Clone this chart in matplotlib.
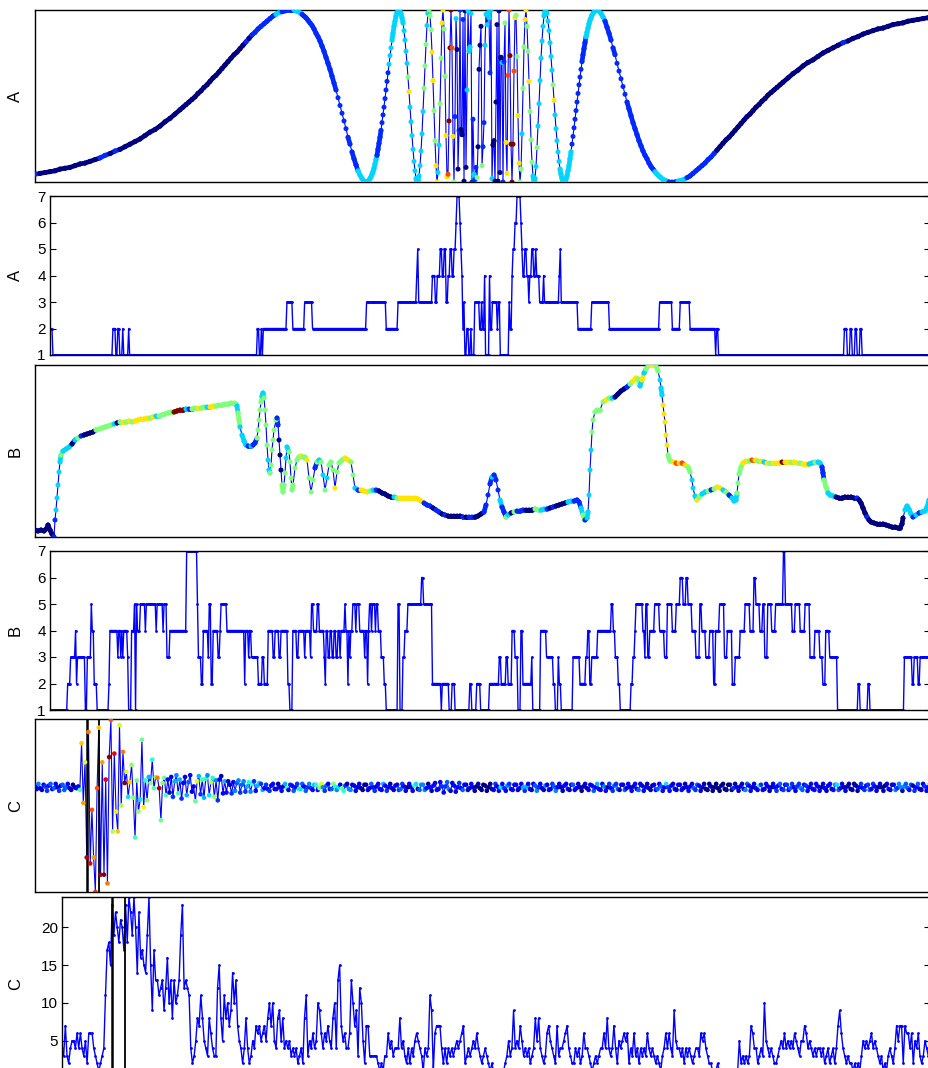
import numpy as np
import matplotlib
matplotlib.use('Agg')
import matplotlib.pyplot as plt
from matplotlib.collections import LineCollection

plt.rcParams['font.family'] = ['Liberation Sans', 'DejaVu Sans']

T = 895  # common time axis, samples

# ---------------- A : continuous signal (sample times come in blocks) ----------------
a_t = np.concatenate([np.arange(0, 146, 5), np.arange(148, 257, 3), np.arange(259, 332, 2),
                      np.arange(332, 562), np.arange(562, 635, 2), np.arange(637, 746, 3),
                      np.arange(748, 894, 5)])
a_vals = [
    -91, -90, -89, -88, -87, -85, -84, -83, -81, -79, -78, -76, -74, -72, -69, -67, -64, -62, -59, -56,
    -53, -50, -46, -42, -39, -35, -30, -26, -21, -16,
    -13, -10, -7, -4, -1, 3, 6, 10, 13, 17, 21, 24, 28, 32, 36, 40, 44, 48, 51, 55, 59, 63, 67, 71, 74,
    78, 81, 84, 87, 90, 93, 95, 97, 98, 99, 100, 100,
    100, 99, 98, 97, 95, 93, 91, 88, 85, 82, 78, 73, 69, 64, 58, 52, 45, 38, 31, 23, 15, 7, -2, -11, -20,
    -29, -38, -48, -56, -65, -73, -80, -87, -92, -96, -99, -100,
    -100, -99, -98, -96, -94, -91, -88, -84, -79, -74,
    -69, -62, -55, -48, -40, -31, -22, -13, -3, 7,
    17, 27, 37, 47, 56, 65, 73, 81, 87, 93,
    97, 99, 100, 99, 96, 91, 85, 76, 65, 52,
    38, 22, 5, -13, -30, -46, -62, -76, -87, -96,
    -100, -99, -93, -81, -64, -44, -18, 9, 35, 60,
    82, 96, 100, 93, 77, 51, 18, -17, -52, -81,
    -100, -89, -57, -9, 44, 85, 100, 78, 23, -46,
    -94, -91, -29, 56, 100, 56, -47, -100, -24, 90,
    54, -85, -40, 100, -39, -45, 89, -99, 99, -83,
    7, 99, 52, 57, 96, -100, -27, -91, -97, -83,
    -95, -59, 31, 59, 81,
    -81, -59, -31, 59, 95, 83, 97, 91, 27, 100,
    -96, -57, -52, -99, -7, 83, -99, 99, -89, 45,
    39, -100, 40, 85, -54, -90, 24, 100, 47, -56,
    -100, -56, 29, 91, 94, 46, -23, -78, -100, -85,
    -44, 9, 57, 89, 100, 81, 52, 17, -18, -51,
    -77, -93, -100, -96, -82, -60, -35, -9, 18, 44,
    64, 81, 93, 99, 100, 96, 87, 76, 62, 46,
    30, 13, -5, -22, -38, -52, -65, -76, -85, -91,
    -96, -99, -100, -99, -97, -93, -87, -81, -73, -65,
    -56, -47, -37, -27, -17, -7, 3, 13, 22, 31,
    40, 48, 55, 62, 69, 74, 79, 84, 88, 91,
    94, 96, 98, 99, 100,
    100, 99, 96, 92, 87, 80, 73, 65, 56, 48, 38, 29, 20, 11, 2, -7, -15, -23, -31, -38, -45, -52, -58,
    -64, -69, -73, -78, -82, -85, -88, -91, -93, -95, -97, -98, -99, -100,
    -100, -100, -99, -98, -97, -95, -93, -90, -87, -84, -81, -78, -74, -71, -67, -63, -59, -55, -51, -48,
    -44, -40, -36, -32, -28, -24, -21, -17, -13, -10, -6, -3, 1, 4, 7, 10, 13,
    16, 21, 26, 30, 35, 39, 42, 46, 50, 53, 56, 59, 62, 64, 67, 69, 72, 74, 76, 78, 79, 81, 83, 84, 85,
    87, 88, 89, 90, 91]

# A : integer level (start time, level)
a_runs = [(0, 2), (3, 1), (64, 2), (67, 1), (69, 2), (71, 1), (74, 2), (75, 1), (80, 2), (81, 1),
          (211, 2), (213, 1), (215, 2), (216, 1), (217, 2), (241, 3), (247, 2), (259, 3), (267, 2),
          (322, 3), (342, 2), (354, 3), (373, 4), (374, 5), (375, 3), (389, 4), (392, 3), (394, 4),
          (397, 5), (399, 4), (401, 5), (403, 3), (405, 4), (407, 5), (409, 4), (411, 5), (413, 6),
          (414, 7), (417, 6), (418, 5), (419, 4), (420, 2), (421, 3), (422, 1), (424, 2), (426, 1),
          (428, 2), (429, 1), (432, 3), (437, 2), (439, 3), (440, 2), (442, 4), (443, 1), (447, 4),
          (448, 2), (450, 3), (455, 2), (456, 3), (458, 1), (467, 3), (468, 2), (470, 4), (471, 5),
          (473, 6), (475, 7), (479, 6), (480, 5), (481, 4), (483, 5), (485, 4), (487, 3), (488, 4),
          (490, 5), (492, 4), (494, 5), (495, 4), (498, 3), (502, 4), (503, 3), (518, 4), (519, 5),
          (520, 3), (537, 2), (551, 3), (569, 2), (620, 3), (633, 2), (641, 3), (651, 2), (677, 1),
          (678, 2), (680, 1), (808, 2), (811, 1), (814, 2), (816, 1), (819, 2), (821, 1), (824, 2),
          (826, 1)]

# ---------------- B : continuous signal (time, value) ----------------
b_points = [
    (0, 7), (3, 6), (6, 7), (9, 6), (12, 9), (13, 12), (15, 7), (17, 3), (19, 0), (20, 17), (21, 27),
    (22, 39), (23, 52), (24, 65), (25, 75), (26, 82), (28, 86), (31, 88), (34, 90), (37, 93), (40, 97),
    (43, 99), (46, 101), (49, 102), (52, 103), (55, 104), (58, 105), (61, 107), (64, 108), (67, 109),
    (70, 110), (73, 111), (76, 112), (79, 113), (82, 114), (85, 115), (88, 115), (91, 115), (94, 116),
    (97, 115), (100, 116), (103, 117), (106, 118), (109, 118), (112, 119), (115, 119), (118, 120),
    (121, 121), (124, 121), (127, 122), (130, 123), (133, 124), (136, 125), (139, 125), (142, 126),
    (145, 127), (148, 127), (151, 128), (154, 128), (157, 128), (160, 129), (163, 129), (166, 129),
    (169, 130), (172, 130), (175, 130), (178, 131), (181, 131), (184, 132), (187, 132), (190, 133),
    (193, 133), (196, 134), (199, 134), (201, 133), (202, 131), (203, 124), (204, 117), (205, 110),
    (207, 102), (209, 96), (211, 92), (213, 91), (216, 91), (218, 92), (220, 94), (222, 99), (223, 107),
    (224, 117), (225, 127), (226, 135), (227, 141), (228, 144), (229, 139), (230, 127), (231, 112),
    (232, 92), (233, 77), (234, 67), (235, 64), (236, 72), (237, 87), (238, 97), (239, 107), (241, 117),
    (242, 119), (243, 112), (244, 97), (245, 82), (246, 67), (247, 52), (248, 45), (249, 52), (250, 64),
    (251, 79), (252, 90), (254, 85), (255, 75), (256, 59), (257, 47), (258, 52), (260, 69), (262, 77),
    (264, 80), (266, 81), (268, 80), (270, 80), (272, 77), (274, 59), (276, 45), (278, 57), (280, 69),
    (282, 75), (284, 77), (286, 75), (288, 62), (290, 47), (292, 59), (294, 72), (296, 75), (298, 67),
    (300, 49), (302, 65), (304, 74), (307, 77), (310, 79), (313, 77), (316, 75), (318, 62), (320, 49),
    (323, 47), (326, 47), (329, 46), (332, 45), (335, 46), (338, 47), (341, 47), (344, 46), (347, 44),
    (350, 43), (353, 41), (356, 40), (359, 40), (362, 39), (365, 39), (368, 39), (371, 39), (374, 39),
    (377, 39), (380, 39), (383, 38), (386, 36), (389, 34), (392, 32), (395, 31), (398, 29), (401, 27),
    (404, 25), (407, 23), (410, 22), (413, 21), (416, 21), (419, 21), (422, 21), (425, 21), (428, 20),
    (431, 20), (434, 20), (437, 20), (440, 20), (443, 21), (446, 23), (449, 25), (451, 32), (453, 42),
    (455, 53), (457, 60), (459, 62), (461, 57), (463, 47), (465, 37), (467, 30), (469, 25), (471, 20),
    (473, 22), (476, 24), (479, 25), (482, 26), (485, 26), (488, 27), (491, 27), (494, 27), (497, 27),
    (500, 28), (503, 27), (506, 27), (509, 28), (512, 28), (515, 29), (518, 30), (521, 31), (524, 32),
    (527, 33), (530, 34), (533, 35), (536, 36), (539, 36), (542, 37), (544, 35), (546, 29), (548, 22),
    (550, 17), (552, 19), (553, 25), (554, 42), (555, 67), (556, 87), (557, 105), (558, 117), (560, 125),
    (562, 127), (565, 127), (568, 135), (571, 137), (574, 139), (577, 139), (580, 140), (583, 143),
    (586, 146), (589, 148), (592, 150), (595, 153), (598, 156), (601, 159), (603, 158), (605, 151),
    (607, 157), (609, 164), (611, 168), (613, 171), (616, 172), (619, 172), (621, 171), (623, 166),
    (625, 157), (626, 149), (627, 142), (628, 132), (629, 123), (630, 115), (631, 102), (632, 92),
    (633, 82), (635, 76), (638, 75), (641, 74), (644, 74), (647, 74), (650, 72), (653, 70), (655, 65),
    (657, 57), (658, 49), (660, 41), (662, 37), (664, 40), (667, 43), (670, 45), (673, 46), (676, 47),
    (679, 48), (682, 50), (685, 49), (688, 47), (691, 45), (694, 42), (697, 39), (699, 36), (701, 37),
    (702, 44), (703, 54), (704, 63), (706, 70), (708, 74), (711, 76), (714, 76), (717, 77), (720, 77),
    (723, 76), (726, 76), (729, 75), (732, 74), (735, 74), (738, 74), (741, 74), (744, 74), (747, 75),
    (750, 75), (753, 75), (756, 75), (759, 75), (762, 74), (765, 74), (768, 73), (771, 73), (774, 73),
    (777, 74), (780, 75), (783, 75), (785, 74), (787, 70), (788, 64), (789, 57), (791, 50), (793, 44),
    (795, 42), (798, 41), (801, 40), (804, 39), (807, 39), (810, 40), (813, 40), (816, 40), (819, 39),
    (822, 39), (824, 37), (826, 34), (828, 29), (830, 24), (832, 20), (834, 17), (836, 15), (839, 14),
    (842, 13), (845, 13), (848, 13), (851, 12), (854, 11), (857, 10), (860, 10), (863, 9), (865, 9),
    (867, 13), (868, 19), (870, 27), (872, 31), (874, 28), (876, 23), (878, 20), (881, 22), (884, 24),
    (887, 25), (890, 26), (892, 30), (894, 37)]

# B : integer level (start time, level)
b_runs = [(0, 1), (18, 2), (21, 3), (26, 4), (27, 2), (28, 3), (36, 1), (38, 3), (42, 5), (43, 4),
          (45, 2), (48, 1), (60, 2), (61, 4), (69, 3), (70, 4), (72, 3), (73, 4), (74, 3), (75, 4),
          (79, 3), (80, 1), (83, 4), (86, 5), (87, 1), (88, 5), (89, 4), (92, 5), (97, 4), (98, 5),
          (108, 4), (109, 5), (115, 4), (116, 5), (119, 3), (122, 4), (139, 7), (150, 5), (151, 3),
          (154, 2), (156, 4), (161, 3), (162, 5), (164, 2), (166, 4), (171, 3), (173, 4), (174, 5),
          (180, 4), (198, 2), (199, 4), (202, 3), (203, 4), (205, 3), (212, 2), (216, 3), (218, 2),
          (222, 4), (227, 3), (229, 4), (233, 3), (235, 4), (242, 2), (244, 1), (247, 4), (251, 3),
          (253, 4), (259, 3), (260, 4), (265, 3), (266, 5), (268, 4), (272, 5), (274, 4), (279, 3),
          (280, 2), (281, 4), (283, 3), (285, 4), (287, 3), (289, 4), (291, 3), (293, 4), (295, 3),
          (296, 4), (300, 5), (301, 4), (303, 2), (304, 4), (305, 3), (306, 4), (308, 5), (311, 4),
          (312, 5), (315, 4), (320, 3), (321, 4), (323, 2), (324, 4), (325, 5), (327, 4), (328, 5),
          (331, 4), (332, 5), (334, 4), (337, 3), (340, 2), (342, 1), (354, 5), (356, 1), (359, 3),
          (361, 4), (364, 5), (378, 6), (380, 5), (389, 2), (398, 1), (399, 2), (406, 1), (409, 2),
          (412, 1), (427, 2), (429, 1), (434, 2), (438, 1), (447, 2), (457, 3), (459, 2), (464, 3),
          (466, 2), (470, 4), (473, 3), (476, 1), (479, 4), (481, 2), (490, 3), (491, 1), (499, 4),
          (505, 3), (512, 2), (514, 1), (517, 3), (518, 2), (520, 1), (532, 3), (539, 2), (545, 3),
          (547, 4), (549, 2), (551, 3), (557, 4), (571, 5), (573, 4), (575, 3), (578, 2), (580, 1),
          (591, 2), (593, 3), (595, 4), (596, 5), (603, 4), (605, 3), (606, 5), (608, 3), (610, 4),
          (615, 5), (620, 4), (625, 3), (628, 5), (633, 4), (637, 5), (641, 6), (644, 5), (647, 6),
          (649, 5), (653, 4), (657, 3), (661, 5), (663, 4), (667, 3), (671, 4), (675, 2), (677, 4),
          (681, 5), (686, 3), (689, 4), (694, 2), (697, 3), (702, 4), (707, 5), (712, 4), (716, 6),
          (718, 5), (722, 4), (725, 5), (727, 3), (730, 5), (734, 4), (738, 5), (746, 7), (748, 5),
          (755, 4), (758, 5), (763, 4), (768, 5), (773, 3), (778, 4), (783, 3), (786, 2), (789, 4),
          (793, 3), (801, 1), (822, 2), (824, 1), (832, 2), (834, 1), (869, 3), (877, 2), (879, 3),
          (883, 2), (885, 3)]

# ---------------- C : continuous signal and its integer level, same 520-sample grid ----------------
c_vals = [
    23, 19, 25, 20, 18, 24, 22, 17, 23, 25, 19, 20, 25, 21, 17, 23, 24, 18, 21, 25, 20, 18, 24, 21,
    20, 22, 18,
    72, 3, 50, -60, 85, -67, -5, -60, -100, 20, 90, -80, 50, -80, 30, -90, 56, 99, -30, 60, -7, -30,
    93, 0, 62, 26, 39, 10, 27, 47, 9, -37, 29, -7, 7, 76, -2, 29, 6, 33, 26, 53, 20, 33, 32, 20, -17,
    26, 32,
    12, 30, 15, 33, 10, 28, 35, 14, 30, 8, 26, 33, 12, 27, 35, 16, 22, 5, 28, 34, 13, 30, 9, 31, 35,
    12, 27, 32, 10, 29, 6, 30, 34, 14, 28,
    15, 28, 24, 14, 27, 17, 26, 29, 15, 24, 28, 16, 22, 27, 16, 25, 28, 17, 23, 26,
    25, 18, 20, 24, 19, 17, 23, 25, 19, 19, 25, 21, 17, 22, 25, 20, 18, 24, 23, 17,
    21, 25, 19, 19, 25, 22, 17, 21, 25, 20, 18, 24, 24, 18, 20, 25, 21, 17, 23, 25,
    19, 19, 25, 22, 18, 21, 24, 20, 17, 23, 25, 19, 18, 24, 23, 17, 21, 25, 20, 18,
    24, 24, 18, 20, 25, 21, 17, 22, 25, 19, 18, 25, 23, 17, 21, 25, 20, 18, 23, 24,
    18, 19, 25, 22, 17, 21, 25, 21, 17, 23, 25, 19, 18, 24, 24, 18, 20, 25, 21, 17,
    23, 26, 18, 19, 27, 22, 15, 22, 27, 19, 17, 26, 23, 16, 21, 26, 20, 18, 24, 24,
    18, 20, 25, 21, 17, 22, 25, 20, 18, 24, 23, 17, 21, 25, 19, 18, 25, 22, 17, 21,
    25, 20, 17, 23, 25, 19, 18, 24, 24, 18, 20, 25, 21, 17, 22, 25, 19, 18, 25, 23,
    17, 21, 25, 20, 18, 23, 24, 18, 19, 25, 22, 17, 21, 25, 21, 17, 23, 25, 19, 18,
    24, 24, 18, 20, 25, 21, 17, 22, 25, 20, 18, 24, 23, 17, 21, 25, 19, 18, 25, 22,
    17, 21, 25, 20, 17, 23, 25, 19, 18, 24, 24, 18, 20, 25, 21, 17, 22, 25, 19, 18,
    25, 23, 17, 21, 25, 20, 18, 23, 24, 18, 19, 25, 22, 17, 21, 25, 21, 17, 23, 25,
    19, 18, 24, 24, 18, 20, 25, 21, 17, 22, 25, 20, 18, 24, 23, 17, 21, 25, 19, 18,
    25, 22, 17, 21, 25, 20, 17, 23, 25, 19, 18, 24, 24, 18, 20, 25, 21, 17, 22, 25,
    19, 18, 25, 23, 17, 21, 25, 20, 18, 23, 24, 18, 19, 25, 22, 17, 21, 25, 21, 17,
    23, 25, 19, 18, 24, 24, 18, 20, 25, 21, 17, 22, 25, 20, 18, 24, 23, 17, 21, 25,
    19, 18, 25, 22, 17, 21, 25, 20, 17, 23, 25, 19, 18, 24, 24, 18, 20, 25, 21, 17,
    22, 25, 19, 18, 25, 23, 17, 21, 25, 20, 18, 23, 24, 18, 19, 25, 22, 17, 21, 25,
    21, 17, 23, 25, 19, 18, 24, 24, 18, 20, 25, 21, 17, 22, 25, 20, 18, 24, 23, 17,
    21, 25, 19, 18, 25, 22, 17, 21, 25]

c_steps = [
    4, 3, 7, 3, 2, 4, 5, 5, 4, 6, 4, 6, 4, 3, 5, 2, 6, 6, 6, 4, 3, 2, 1, 2, 3, 4, 11, 17, 18, 15,
    23, 19, 22, 20, 18, 21, 20, 17, 23, 18, 24, 22, 19, 24, 20, 14, 22, 16, 17, 15,
    14, 19, 24, 15, 9, 17, 13, 13, 11, 12, 13, 9, 12, 16, 10, 13, 8, 13, 10, 11,
    13, 19, 23, 12, 13, 12, 11, 4, 2, 3, 5, 8, 7, 11, 8, 5, 4, 3, 8, 6,
    4, 3, 3, 12, 15, 8, 5, 11, 8, 10, 7, 9, 14, 10, 13, 7, 5, 4, 2, 4,
    8, 4, 2, 3, 5, 4, 7, 6, 7, 5, 6, 7, 5, 8, 10, 7, 10, 5, 4, 8,
    9, 5, 8, 4, 5, 4, 5, 3, 4, 3, 4, 2, 3,
    4, 2, 8, 11, 3, 5, 4, 6, 4, 5, 10, 9, 6, 4, 6, 5, 7, 5, 4, 8,
    10, 4, 13, 15, 7, 5, 6, 4, 4, 6, 13, 10, 7, 9, 3, 12, 10, 5, 2, 7,
    7, 3, 3, 3, 3, 3, 2, 1, 2, 1, 3, 3, 6, 4, 5, 3, 4, 4, 4, 8,
    4, 5, 3, 2, 4, 2, 4, 3, 5, 6, 5, 4, 3, 1, 4, 3, 4, 11, 9, 1,
    6, 7, 7, 7, 4, 2, 4, 2, 4, 3, 4, 3, 4, 5, 4, 5, 6, 7, 2, 3,
    4, 3, 4, 5, 4, 6, 4, 3, 2, 3, 4, 3, 2, 1, 2, 1, 1, 1, 1, 1,
    1, 1, 2, 3, 5, 3, 4, 9, 4, 5, 4, 7, 5, 3, 4, 3, 4, 2, 3, 4,
    8, 5, 8, 4, 3, 2, 3, 6, 7, 5, 4, 3, 2, 7, 3, 4, 4, 5, 6, 7,
    4, 3, 2, 2, 4, 3, 4, 2, 3, 6, 4, 4, 3, 2, 1, 2, 3, 2, 3, 4,
    4, 6, 4, 8, 4, 3, 4, 7, 4, 2, 5, 4, 5, 6, 5, 6, 2, 4, 3, 6,
    3, 4, 2, 4, 3, 4, 3, 6, 4, 3, 4, 3, 2, 3, 2, 1, 3, 4, 6, 4,
    6, 4, 3, 9, 5, 4, 4, 3, 4, 2, 4, 3, 4, 3, 2, 3, 4, 4, 3, 6,
    5, 6, 4, 3, 2, 2, 1, 1, 1, 2, 1, 1, 1, 1, 1, 1, 1, 1, 1, 1,
    1, 1, 5, 2, 3, 2, 3, 2, 3, 7, 6, 4, 4, 2, 3, 4, 3, 10, 5, 4,
    3, 4, 3, 2, 2, 3, 4, 5, 4, 6, 4, 5, 4, 5, 4, 6, 5, 4, 3, 5,
    5, 7, 6, 4, 5, 4, 3, 4, 3, 4, 4, 3, 4, 2, 3, 4, 2, 3, 4, 2,
    4, 7, 9, 6, 4, 3, 2, 3, 2, 2, 1, 2, 1, 2, 1, 3, 5, 4, 5, 4,
    5, 6, 4, 5, 4, 3, 2, 3, 1, 2, 1, 3, 4, 3, 2, 4, 7, 5, 7, 7,
    2, 7, 6, 6, 4, 6, 2, 5, 4, 6, 3, 2, 3, 5, 4, 3, 2]

c_marks = [52, 64.5]  # event times drawn as black lines


def level_at(runs, t):
    starts = np.array([r[0] for r in runs])
    levels = np.array([r[1] for r in runs])
    return levels[np.searchsorted(starts, t, side='right') - 1]


W, H = 929, 1068
fig = plt.figure(figsize=(W / 100, H / 100), dpi=100)
fig.patch.set_facecolor('white')
jet = plt.get_cmap('jet')
blue = (0, 0, 1)


def panel(l, t, r, b):
    return fig.add_axes([l / W, 1 - b / H, (r - l) / W, (b - t) / H])


def finish(ax, name, ticks=None):
    ax.set_xlim(0, T)
    ax.set_xticks([])
    if ticks is None:
        ax.set_yticks([])
    else:
        ax.set_yticks(ticks)
        ax.tick_params(axis='y', direction='in', length=4, width=0.8, labelsize=11,
                       left=True, right=True, pad=3)
    for s in ax.spines.values():
        s.set_linewidth(1.0)
        s.set_color('black')
    ax.set_ylabel(name, fontsize=12)
    pos = ax.get_position()
    ax.yaxis.set_label_coords((23 / W - pos.x0) / pos.width, 0.5)


def dotted_trace(ax, t, v, level, vmax, yscale, size):
    """blue trace with jet-coloured samples; where samples sit close together they merge into a band"""
    t = np.asarray(t, float)
    v = np.asarray(v, float)
    ax.plot(t, v, color=blue, lw=0.8, zorder=2)
    pts = np.column_stack([t, v])
    segs = np.stack([pts[:-1], pts[1:]], axis=1)
    gap = np.hypot(np.diff(t), np.diff(v) * yscale)
    near = gap < 7.5
    cols = jet((np.asarray(level, float)[:-1] - 1) / (vmax - 1))
    ax.add_collection(LineCollection(segs[near], colors=cols[near], linewidths=3.4,
                                     capstyle='round', zorder=2.5))
    ax.scatter(t, v, c=level, cmap='jet', vmin=1, vmax=vmax, s=size, linewidths=0, zorder=3)


grid = np.arange(0, T + 1)

# A continuous
ax1 = panel(35, 10, 930, 182)
dotted_trace(ax1, a_t, a_vals, level_at(a_runs, a_t), 7, 0.86, 13)
ax1.set_ylim(-100, 100)
finish(ax1, 'A')

# A level
ax2 = panel(50, 196, 930, 355)
ax2.plot(grid, level_at(a_runs, grid), color=blue, lw=1.0, marker='o', ms=2.0, mew=0)
ax2.set_ylim(1, 7)
finish(ax2, 'A', ticks=range(1, 8))

# B continuous
b_t = np.array([p[0] for p in b_points])
b_v = np.array([p[1] for p in b_points])
ax3 = panel(35, 365, 930, 537)
dotted_trace(ax3, b_t, b_v, level_at(b_runs, b_t), 7, 1.0, 13)
ax3.set_ylim(0, 172)
finish(ax3, 'B')

# B level
ax4 = panel(50, 551, 930, 710)
ax4.plot(grid, level_at(b_runs, grid), color=blue, lw=1.0, marker='o', ms=2.0, mew=0)
ax4.set_ylim(1, 7)
finish(ax4, 'B', ticks=range(1, 8))

# C continuous
c_t = np.linspace(0, T, len(c_steps))
ax5 = panel(35, 719, 930, 892)
ax5.plot(c_t, c_vals, color=blue, lw=0.8, zorder=2)
ax5.scatter(c_t, c_vals, c=c_steps, cmap='jet', vmin=1, vmax=24, s=11, linewidths=0, zorder=3)
for m, w in zip(c_marks, [1.8, 1.3]):
    ax5.axvline(m, color='black', lw=w, zorder=2.5)
ax5.set_ylim(-100, 100)
finish(ax5, 'C')

# C level
ax6 = panel(62, 897, 930, 1071)
ax6.plot(c_t, c_steps, color=blue, lw=1.0, marker='o', ms=2.0, mew=0)
for m, w in zip(c_marks, [1.8, 1.3]):
    ax6.axvline(m, color='black', lw=w)
ax6.set_ylim(1, 24)
finish(ax6, 'C', ticks=[5, 10, 15, 20])

fig.savefig('out.png', dpi=100)
